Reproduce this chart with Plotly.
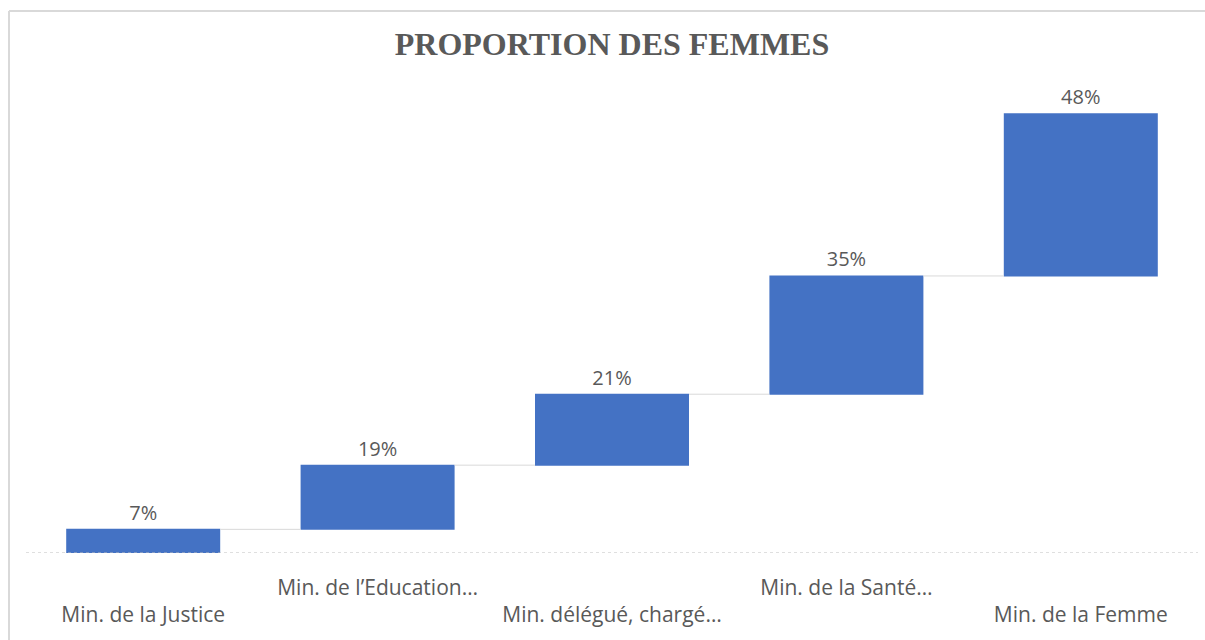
import plotly.graph_objects as go

categories = ["Min. de la Justice", "Min. de l’Education…", "Min. délégué, chargé…",
              "Min. de la Santé…", "Min. de la Femme"]
values = [7, 19, 21, 35, 48]
value_labels = ["7%", "19%", "21%", "35%", "48%"]
title_text = "PROPORTION DES FEMMES"

# staggered tick labels (odd rows lower, as in the reference)
tick_text = [("<br>" + c) if i % 2 == 0 else c for i, c in enumerate(categories)]

W, H = 1205, 640
ml, mr, mt, mb = 26, 7, 80, 87
pw, ph = W - ml - mr, H - mt - mb

fig = go.Figure(go.Waterfall(
    x=categories,
    y=values,
    measure=["relative"] * len(values),
    text=value_labels,
    texttemplate="%{text}",
    textposition="outside",
    textfont=dict(family="Open Sans", size=20, color="#595959"),
    increasing=dict(marker=dict(color="#4472C4", line=dict(color="#4472C4", width=0))),
    connector=dict(line=dict(color="#d9d9d9", width=1), mode="between"),
    cliponaxis=False,
))

fig.update_layout(
    width=W, height=H,
    margin=dict(l=ml, r=mr, t=mt, b=mb),
    paper_bgcolor="white", plot_bgcolor="white",
    showlegend=False,
    waterfallgap=0.343,
    title=dict(text="<b>" + title_text + "</b>", x=0.5, xref="paper", xanchor="center",
               y=1 - 44 / H, yanchor="middle",
               font=dict(family="Liberation Serif", size=32, color="#595959")),
    xaxis=dict(tickmode="array", tickvals=categories, ticktext=tick_text,
               showgrid=False, showline=False, zeroline=False, ticks="",
               ticklabelstandoff=20,
               tickfont=dict(family="Open Sans", size=21, color="#595959")),
    yaxis=dict(range=[0, 140], visible=False, showgrid=False, zeroline=False),
    shapes=[
        dict(type="line", xref="paper", yref="y", x0=0, x1=1, y0=0, y1=0,
             line=dict(color="#bfbfbf", width=1, dash="dot"), layer="above"),
        dict(type="line", xref="paper", yref="paper",
             x0=(9 - ml) / pw, x1=(9 - ml) / pw, y0=(H - mb - 11) / ph, y1=-mb / ph - 0.01,
             line=dict(color="#d9d9d9", width=2)),
        dict(type="line", xref="paper", yref="paper",
             x0=(9 - ml) / pw, x1=(W - ml) / pw + 0.01, y0=(H - mb - 11) / ph, y1=(H - mb - 11) / ph,
             line=dict(color="#d9d9d9", width=2)),
    ],
)

fig.write_html("out.html", config={"displayModeBar": False},
               post_script="document.body.style.margin='0';document.body.style.overflow='hidden';")
